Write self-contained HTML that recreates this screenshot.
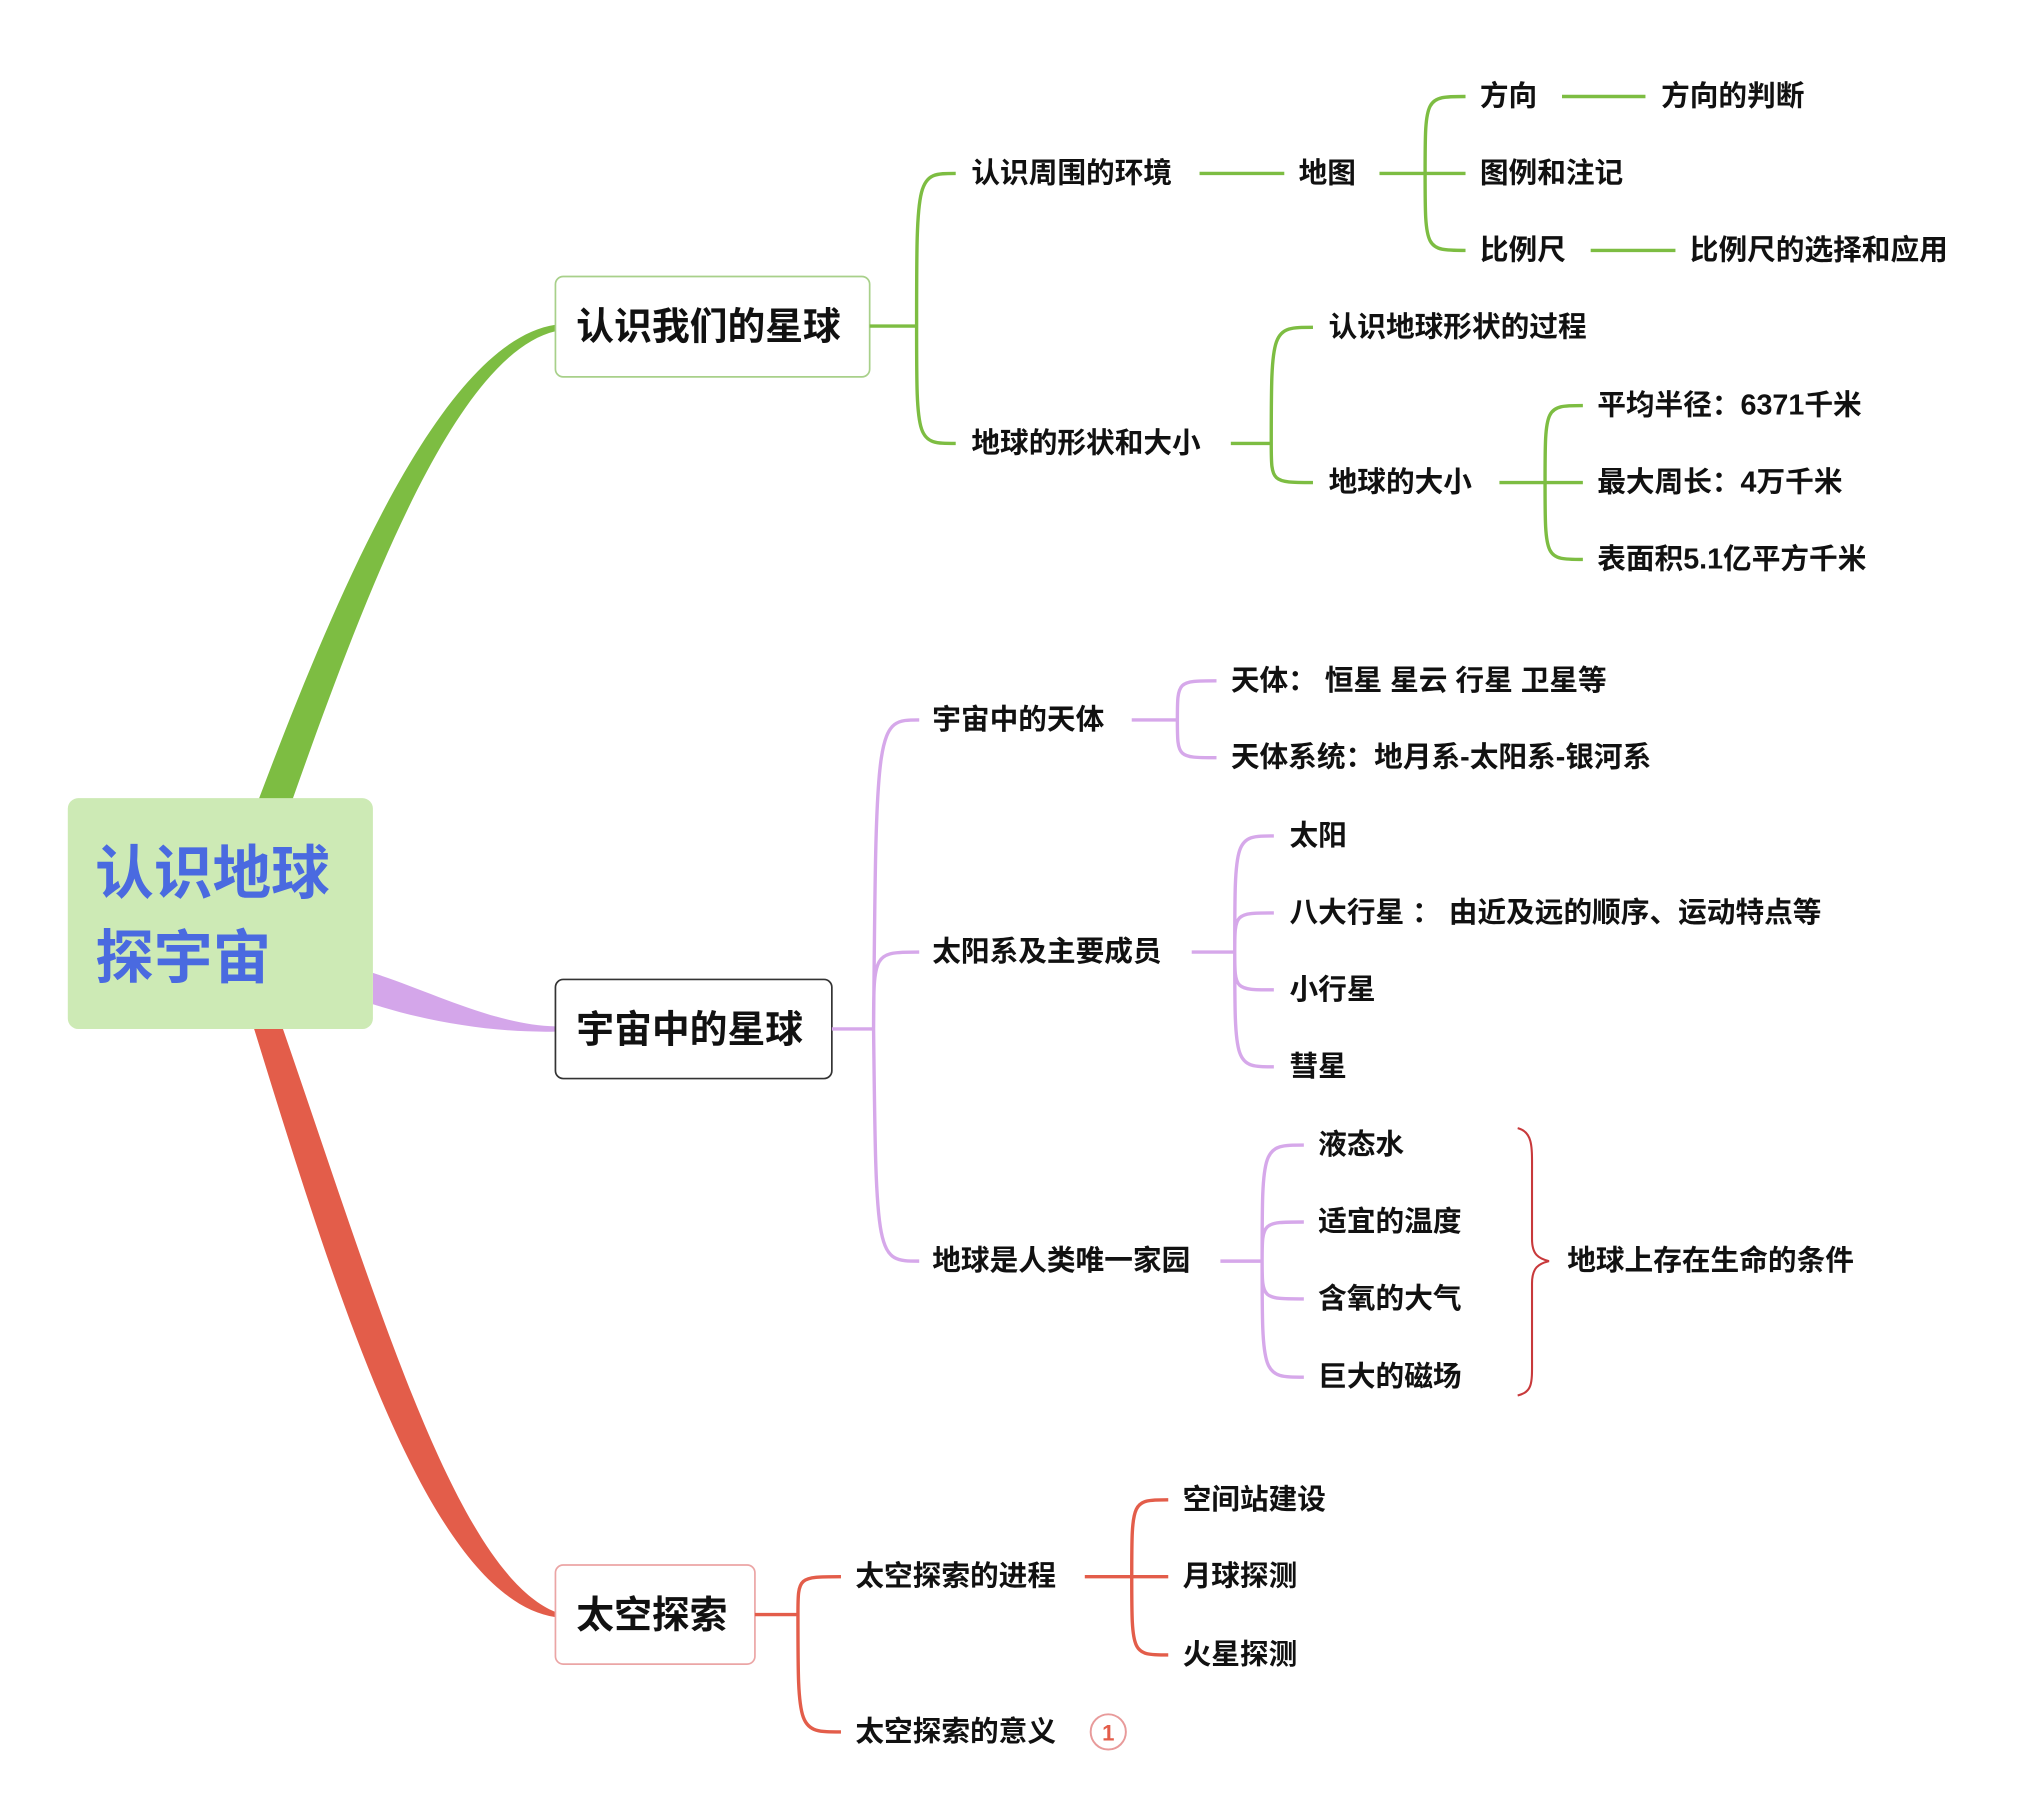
<!DOCTYPE html>
<html><head><meta charset="utf-8"><style>
html,body{margin:0;padding:0;background:#fff;}
svg{display:block;}
text{font-family:"Liberation Sans","Noto Sans CJK SC",sans-serif;font-weight:bold;fill:#111;dominant-baseline:central;}
.s{font-size:22px;}
.g{stroke:#7dbd42;stroke-width:2.6;fill:none;}
.p{stroke:#d6a8ea;stroke-width:2.6;fill:none;}
.r{stroke:#e35d4a;stroke-width:2.6;fill:none;}
</style></head><body>
<svg width="2034" height="1818" viewBox="0 0 1560 1394" preserveAspectRatio="none" xmlns="http://www.w3.org/2000/svg">
<path d="M198,614 C260,450 340,262 426,249 L426,254 C350,272 282,450 224,614 Z" fill="#7dbd42"/>
<path d="M286,746 C330,760 380,786 426,787 L426,791 C380,792 330,784 286,770 Z" fill="#d4a6ea"/>
<path d="M194,786 C260,1000 330,1225 426,1240 L426,1236 C350,1205 290,1000 216,786 Z" fill="#e35d4a"/>
<rect x="52" y="612" width="234" height="177" rx="8" fill="#cdeab5"/>
<text x="73" y="670" style="font-size:45px;fill:#4a6ae0">认识地球</text>
<text x="73" y="735" style="font-size:45px;fill:#4a6ae0">探宇宙</text>
<rect x="426" y="212" width="241" height="77" rx="6" fill="#fff" stroke="#a8d08a" stroke-width="1.3"/>
<text x="442" y="251" style="font-size:29px">认识我们的星球</text>
<rect x="426" y="751" width="212" height="76" rx="6" fill="#fff" stroke="#333" stroke-width="1.3"/>
<text x="442" y="790" style="font-size:29px">宇宙中的星球</text>
<rect x="426" y="1200" width="153" height="76" rx="6" fill="#fff" stroke="#eba5a5" stroke-width="1.3"/>
<text x="442" y="1239" style="font-size:29px">太空探索</text>

<path class="g" d="M667,250 L703,250 M703,250 C703,133 703,133 733,133 M703,250 C703,340 703,340 733,340"/>
<text class="s" x="745" y="133">认识周围的环境</text>
<path class="g" d="M920,133 L985,133"/>
<text class="s" x="996" y="133">地图</text>
<path class="g" d="M1058,133 L1124,133 M1093,133 C1093,74 1093,74 1124,74 M1093,133 C1093,192 1093,192 1124,192"/>
<text class="s" x="1135" y="74">方向</text>
<text class="s" x="1135" y="133">图例和注记</text>
<text class="s" x="1135" y="192">比例尺</text>
<path class="g" d="M1198,74 L1262,74 M1220,192 L1285,192"/>
<text class="s" x="1274" y="74">方向的判断</text>
<text class="s" x="1296" y="192">比例尺的选择和应用</text>
<text class="s" x="745" y="340">地球的形状和大小</text>
<path class="g" d="M944,340 L975,340 M975,340 C975,251 975,251 1007,251 M975,340 C975,370 975,370 1007,370"/>
<text class="s" x="1019" y="251">认识地球形状的过程</text>
<text class="s" x="1019" y="370">地球的大小</text>
<path class="g" d="M1150,370 L1214,370 M1185,370 C1185,311 1185,311 1214,311 M1185,370 C1185,429 1185,429 1214,429"/>
<text class="s" x="1225" y="311">平均半径：6371千米</text>
<text class="s" x="1225" y="370">最大周长：4万千米</text>
<text class="s" x="1225" y="429">表面积5.1亿平方千米</text>

<path class="p" d="M638,789 L670,789 M670,789 C672,552 672,552 705,552 M670,789 C670,730 670,730 705,730 M670,789 C672,967 672,967 705,967"/>
<text class="s" x="715" y="552">宇宙中的天体</text>
<text class="s" x="715" y="730">太阳系及主要成员</text>
<text class="s" x="715" y="967">地球是人类唯一家园</text>
<path class="p" d="M868,552 L903,552 M903,552 C903,522 903,522 933,522 M903,552 C903,581 903,581 933,581"/>
<text class="s" x="944" y="522">天体：  恒星 星云 行星 卫星等</text>
<text class="s" x="944" y="581">天体系统：地月系-太阳系-银河系</text>
<path class="p" d="M914,730 L947,730 M947,730 C947,641 947,641 977,641 M947,730 C947,700 947,700 977,700 M947,730 C947,759 947,759 977,759 M947,730 C947,818 947,818 977,818"/>
<text class="s" x="989" y="641">太阳</text>
<text class="s" x="989" y="700">八大行星 ： 由近及远的顺序、运动特点等</text>
<text class="s" x="989" y="759">小行星</text>
<text class="s" x="989" y="818">彗星</text>
<path class="p" d="M936,967 L968,967 M968,967 C968,878 968,878 1000,878 M968,967 C968,937 968,937 1000,937 M968,967 C968,996 968,996 1000,996 M968,967 C968,1056 968,1056 1000,1056"/>
<text class="s" x="1011" y="878">液态水</text>
<text class="s" x="1011" y="937">适宜的温度</text>
<text class="s" x="1011" y="996">含氧的大气</text>
<text class="s" x="1011" y="1056">巨大的磁场</text>
<path d="M1164,865 C1176,868 1175,880 1175,900 L1175,950 C1175,962 1180,965 1188,967 C1180,969 1175,972 1175,984 L1175,1040 C1175,1060 1176,1067 1164,1070" fill="none" stroke="#c8393b" stroke-width="1.6"/>
<text class="s" x="1202" y="967">地球上存在生命的条件</text>

<path class="r" d="M579,1238 L612,1238 M612,1238 C612,1209 612,1209 645,1209 M612,1238 C612,1328 612,1328 645,1328"/>
<text class="s" x="656" y="1209">太空探索的进程</text>
<text class="s" x="656" y="1328">太空探索的意义</text>
<path class="r" d="M832,1209 L896,1209 M868,1209 C868,1150 868,1150 896,1150 M868,1209 C868,1269 868,1269 896,1269"/>
<text class="s" x="907" y="1150">空间站建设</text>
<text class="s" x="907" y="1209">月球探测</text>
<text class="s" x="907" y="1269">火星探测</text>
<circle cx="850" cy="1328" r="13.5" fill="#fff" stroke="#e89a9a" stroke-width="1.5"/>
<text x="850" y="1329" text-anchor="middle" style="font-size:17px;fill:#e35d4a">1</text>
</svg>
</body></html>
